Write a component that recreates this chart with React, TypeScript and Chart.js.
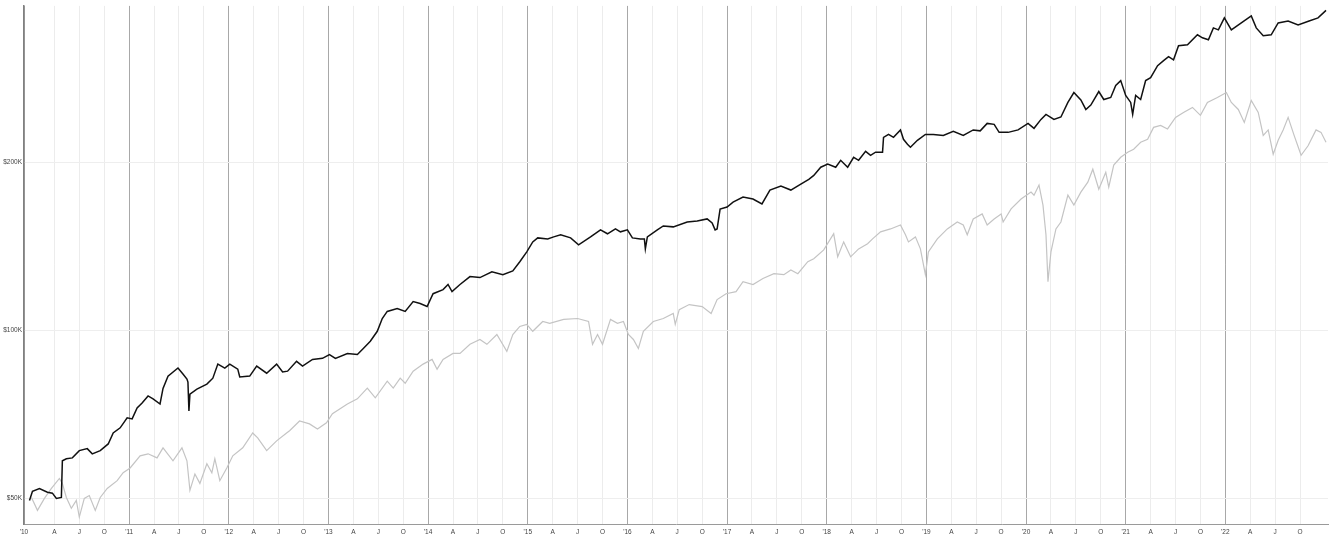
import React, { useEffect, useRef } from "react";
import { Chart, registerables } from "chart.js";

Chart.register(...registerables);

// Portfolio (black line): time in decimal years, value in dollars
const portfolioTimes = [
  2010.0, 2010.03, 2010.1, 2010.18, 2010.23, 2010.27, 2010.32, 2010.33, 2010.37, 2010.43,
  2010.5, 2010.58, 2010.63, 2010.71, 2010.79, 2010.84, 2010.91, 2010.98, 2011.03, 2011.08,
  2011.13, 2011.19, 2011.24, 2011.31, 2011.34, 2011.39, 2011.49, 2011.54, 2011.58, 2011.59,
  2011.6, 2011.61, 2011.68, 2011.78, 2011.84, 2011.89, 2011.96, 2012.01, 2012.09, 2012.11,
  2012.21, 2012.28, 2012.38, 2012.48, 2012.54, 2012.59, 2012.68, 2012.74, 2012.84, 2012.94,
  2013.01, 2013.07, 2013.19, 2013.29, 2013.35, 2013.42, 2013.49, 2013.54, 2013.59, 2013.69,
  2013.77, 2013.85, 2013.92, 2013.99, 2014.05, 2014.15, 2014.2, 2014.24, 2014.32, 2014.42,
  2014.52, 2014.64, 2014.75, 2014.85, 2014.92, 2014.99, 2015.05, 2015.1, 2015.2, 2015.26,
  2015.33, 2015.43, 2015.51, 2015.63, 2015.73, 2015.8, 2015.88, 2015.93, 2016.0, 2016.05,
  2016.13, 2016.17, 2016.18, 2016.2, 2016.3, 2016.36, 2016.46, 2016.6, 2016.7, 2016.8,
  2016.85, 2016.88, 2016.9, 2016.93, 2017.0, 2017.06, 2017.16, 2017.26, 2017.35, 2017.43,
  2017.54, 2017.64, 2017.74, 2017.82, 2017.87, 2017.94, 2018.01, 2018.09, 2018.14, 2018.21,
  2018.27, 2018.32, 2018.39, 2018.44, 2018.49, 2018.56, 2018.57, 2018.62, 2018.67, 2018.74,
  2018.77, 2018.81, 2018.84, 2018.91, 2018.99, 2019.07, 2019.17, 2019.27, 2019.37, 2019.47,
  2019.54, 2019.61, 2019.68, 2019.73, 2019.82, 2019.92, 2020.02, 2020.08, 2020.15, 2020.2,
  2020.28, 2020.35, 2020.42, 2020.48, 2020.55, 2020.6, 2020.65, 2020.73, 2020.78, 2020.85,
  2020.9, 2020.95, 2021.0, 2021.05, 2021.07, 2021.1, 2021.15, 2021.2, 2021.25, 2021.32,
  2021.38, 2021.43, 2021.48, 2021.53, 2021.62, 2021.72, 2021.77, 2021.83, 2021.88, 2021.93,
  2021.99, 2022.06, 2022.16, 2022.26, 2022.31, 2022.38, 2022.46, 2022.53, 2022.63, 2022.73,
  2022.84, 2022.93, 2023.01,
];
const portfolioValues = [
  49600, 51500, 52100, 51300, 51100, 50000, 50200, 58400, 58900, 59100,
  60900, 61400, 60100, 60900, 62600, 65500, 66900, 69700, 69400, 72600,
  74100, 76300, 75400, 73800, 78700, 82800, 85600, 83500, 81800, 80800,
  71700, 76900, 78500, 80100, 82100, 87000, 85600, 87000, 85200, 82500,
  82800, 86300, 83800, 87000, 84200, 84500, 88000, 86300, 88700, 89100,
  90500, 89100, 90900, 90500, 92800, 95600, 99600, 105000, 108100, 109400,
  108100, 112600, 111700, 110300, 116300, 118300, 120800, 117300, 120800, 124800,
  124300, 127300, 125800, 127800, 132700, 138200, 144000, 146400, 145800, 147000,
  148300, 146400, 142300, 147000, 151300, 148900, 151900, 150100, 151300, 146400,
  145800, 145800, 139900, 147000, 151300, 153800, 153200, 156300, 157000, 158300,
  155700, 151300, 151900, 164900, 166300, 169700, 173200, 171800, 168400, 178300,
  181200, 178300, 182700, 186400, 189400, 195900, 198400, 195900, 201600, 195900,
  204100, 201600, 209200, 205800, 208400, 208400, 221600, 224300, 221600, 228500,
  219800, 215400, 212700, 218900, 224300, 224300, 223400, 227100, 223400, 228500,
  227600, 234700, 233800, 226200, 226200, 228500, 234700, 230000, 238600, 243600,
  238600, 241000, 255900, 266600, 258500, 248600, 253100, 267700, 259000, 261200,
  274400, 280000, 263400, 255900, 243600, 263400, 259000, 280000, 283500, 297800,
  304000, 309000, 305000, 323300, 324600, 338200, 334000, 331300, 348000, 345200,
  362600, 345200, 355200, 365600, 348000, 336800, 338200, 355200, 358100, 352300,
  358100, 362600, 374000,
];

// Benchmark (grey line)
const benchmarkTimes = [
  2010.02, 2010.08, 2010.15, 2010.22, 2010.3, 2010.33, 2010.37, 2010.42, 2010.47, 2010.5,
  2010.55, 2010.6, 2010.66, 2010.71, 2010.78, 2010.88, 2010.94, 2011.01, 2011.11, 2011.19,
  2011.28, 2011.34, 2011.44, 2011.53, 2011.58, 2011.61, 2011.66, 2011.71, 2011.78, 2011.83,
  2011.86, 2011.91, 2011.98, 2012.04, 2012.14, 2012.24, 2012.29, 2012.38, 2012.48, 2012.58,
  2012.61, 2012.71, 2012.81, 2012.89, 2012.98, 2013.04, 2013.19, 2013.29, 2013.39, 2013.47,
  2013.59, 2013.65, 2013.72, 2013.77, 2013.85, 2013.95, 2014.04, 2014.09, 2014.15, 2014.25,
  2014.32, 2014.42, 2014.52, 2014.59, 2014.69, 2014.79, 2014.85, 2014.92, 2014.99, 2015.05,
  2015.15, 2015.22, 2015.36, 2015.5, 2015.61, 2015.65, 2015.7, 2015.75, 2015.83, 2015.9,
  2015.96, 2016.01, 2016.06, 2016.11, 2016.16, 2016.26, 2016.36, 2016.46, 2016.48, 2016.52,
  2016.62, 2016.75, 2016.84, 2016.9, 2016.99, 2017.09, 2017.16, 2017.26, 2017.36, 2017.47,
  2017.57, 2017.64, 2017.71, 2017.81, 2017.87, 2017.97, 2018.07, 2018.11, 2018.17, 2018.24,
  2018.32, 2018.41, 2018.46, 2018.54, 2018.64, 2018.74, 2018.79, 2018.82, 2018.89, 2018.94,
  2018.99, 2019.02, 2019.11, 2019.21, 2019.31, 2019.37, 2019.41, 2019.47, 2019.56, 2019.61,
  2019.68, 2019.75, 2019.77, 2019.85, 2019.95, 2020.05, 2020.08, 2020.13, 2020.17, 2020.2,
  2020.22, 2020.25, 2020.3, 2020.35, 2020.42, 2020.48, 2020.55, 2020.62, 2020.67, 2020.73,
  2020.8, 2020.83, 2020.88, 2020.95, 2021.02, 2021.08, 2021.15, 2021.22, 2021.28, 2021.35,
  2021.42, 2021.5, 2021.58, 2021.67, 2021.75, 2021.82, 2021.92, 2022.01, 2022.06, 2022.13,
  2022.19, 2022.26, 2022.33, 2022.38, 2022.43, 2022.48, 2022.53, 2022.58, 2022.63, 2022.69,
  2022.76, 2022.83, 2022.91, 2022.96, 2023.01,
];
const benchmarkValues = [
  50200, 47600, 50000, 52100, 54300, 53200, 50200, 48000, 49600, 46300,
  50000, 50600, 47600, 50200, 52100, 53800, 55600, 56700, 59600, 60100,
  59100, 61600, 58400, 61600, 58400, 51700, 55300, 53200, 57700, 55600,
  58900, 53800, 56700, 59600, 61600, 65500, 64200, 60900, 63400, 65500,
  66100, 68800, 68000, 66600, 68300, 70900, 73800, 75400, 78800, 75700,
  81100, 78800, 82100, 80400, 84500, 87000, 88700, 85200, 88700, 90900,
  90900, 94400, 96300, 94400, 98300, 91700, 98300, 101600, 102500, 99600,
  103700, 102900, 104600, 105000, 103700, 94400, 98300, 94400, 104600, 102900,
  103700, 98300, 96300, 92800, 99600, 103700, 105000, 107200, 102500, 108900,
  111200, 110300, 107200, 113500, 116300, 117300, 122200, 120800, 123800, 126300,
  125800, 128300, 126300, 132700, 134300, 139300, 148900, 135400, 144000, 135400,
  139900, 142900, 145800, 150100, 151900, 154400, 148300, 144000, 147000, 139900,
  125800, 138200, 145800, 151900, 156300, 154400, 148300, 158300, 161600, 154400,
  158300, 161600, 156300, 165000, 171800, 176800, 174600, 182000, 167600, 148300,
  122200, 138200, 151900, 156300, 174600, 167600, 176800, 184200, 194300, 179000,
  191900, 180500, 197600, 204100, 208400, 211000, 217100, 219800, 230900, 232800,
  229400, 240600, 245600, 250700, 242600, 255900, 261200, 266600, 255900, 248600,
  235700, 258000, 245600, 223400, 228500, 206700, 218900, 228500, 240600, 223400,
  205800, 214000, 228500, 226200, 217100,
];

// Axis ticks
const yTickValues = [50000, 100000, 200000];
const yTickLabels = ["$50K", "$100K", "$200K"];
const xYears = [2010, 2011, 2012, 2013, 2014, 2015, 2016, 2017, 2018, 2019, 2020, 2021, 2022];
const quarterLabels = ["", "A", "J", "O"];
const X_MIN = 2009.945;
const X_MAX = 2023.03;
const Y_MIN = 45000;
const Y_MAX = 381000;

const toPoints = (xs: number[], ys: number[]) => xs.map((x, i) => ({ x, y: ys[i] }));

function buildXTicks() {
  const ticks: { value: number; label: string; year: boolean }[] = [];
  xYears.forEach((yr) => {
    quarterLabels.forEach((q, qi) => {
      const isYear = qi === 0;
      const value = isYear && yr === xYears[0] ? X_MIN : yr + qi * 0.25;
      const label = isYear ? "'" + String(yr).slice(2) : q;
      ticks.push({ value, label, year: isYear });
    });
  });
  return ticks;
}

export default function App() {
  const canvasRef = useRef<HTMLCanvasElement | null>(null);

  useEffect(() => {
    document.body.style.margin = "0";
    const canvas = canvasRef.current;
    if (!canvas) return;
    const xTicks = buildXTicks();
    const labelFor = (v: number) => {
      const t = xTicks.find((k) => Math.abs(k.value - v) < 1e-6);
      return t ? t.label : "";
    };
    const isYearTick = (v: number) => {
      const t = xTicks.find((k) => Math.abs(k.value - v) < 1e-6);
      return t ? t.year : false;
    };

    const chart = new Chart(canvas, {
      type: "line",
      data: {
        datasets: [
          {
            label: "Portfolio",
            data: toPoints(portfolioTimes, portfolioValues),
            borderColor: "#111111",
            borderWidth: 1.5,
            pointRadius: 0,
            tension: 0,
            fill: false,
          },
          {
            label: "Benchmark",
            data: toPoints(benchmarkTimes, benchmarkValues),
            borderColor: "#c4c4c4",
            borderWidth: 1.2,
            pointRadius: 0,
            tension: 0,
            fill: false,
          },
        ],
      },
      options: {
        responsive: false,
        animation: false,
        devicePixelRatio: 1,
        layout: { padding: { left: 0, right: 1, top: 3, bottom: 0 } },
        plugins: { legend: { display: false }, tooltip: { enabled: false } },
        scales: {
          x: {
            type: "linear",
            min: X_MIN,
            max: X_MAX,
            afterBuildTicks: (scale: any) => {
              scale.ticks = xTicks.map((t) => ({ value: t.value }));
            },
            afterFit: (scale: any) => {
              scale.height = 17;
            },
            ticks: {
              autoSkip: false,
              maxRotation: 0,
              padding: 4,
              color: "#444444",
              font: { family: "Liberation Sans, Arial, sans-serif", size: 6.5 },
              callback: (v: any) => labelFor(Number(v)),
            },
            grid: {
              drawTicks: false,
              color: (ctx: any) =>
                ctx.tick && isYearTick(ctx.tick.value) ? "#a8a8a8" : "#ececec",
              lineWidth: 1,
            },
            border: { color: "#9a9a9a", width: 1 },
          },
          y: {
            type: "logarithmic",
            min: Y_MIN,
            max: Y_MAX,
            afterBuildTicks: (scale: any) => {
              scale.ticks = yTickValues.map((v) => ({ value: v }));
            },
            afterFit: (scale: any) => {
              scale.width = 24;
            },
            ticks: {
              padding: 2,
              color: "#444444",
              font: { family: "Liberation Sans, Arial, sans-serif", size: 6.5 },
              callback: (v: any) => {
                const i = yTickValues.indexOf(Number(v));
                return i >= 0 ? yTickLabels[i] : "";
              },
            },
            grid: { drawTicks: false, color: "#eeeeee", lineWidth: 1 },
            border: { color: "#808080", width: 1.5 },
          },
        },
      },
    } as any);
    return () => chart.destroy();
  }, []);

  return (
    <canvas
      ref={canvasRef}
      width={1329}
      height={541}
      style={{ display: "block", width: 1329, height: 541 }}
    />
  );
}
